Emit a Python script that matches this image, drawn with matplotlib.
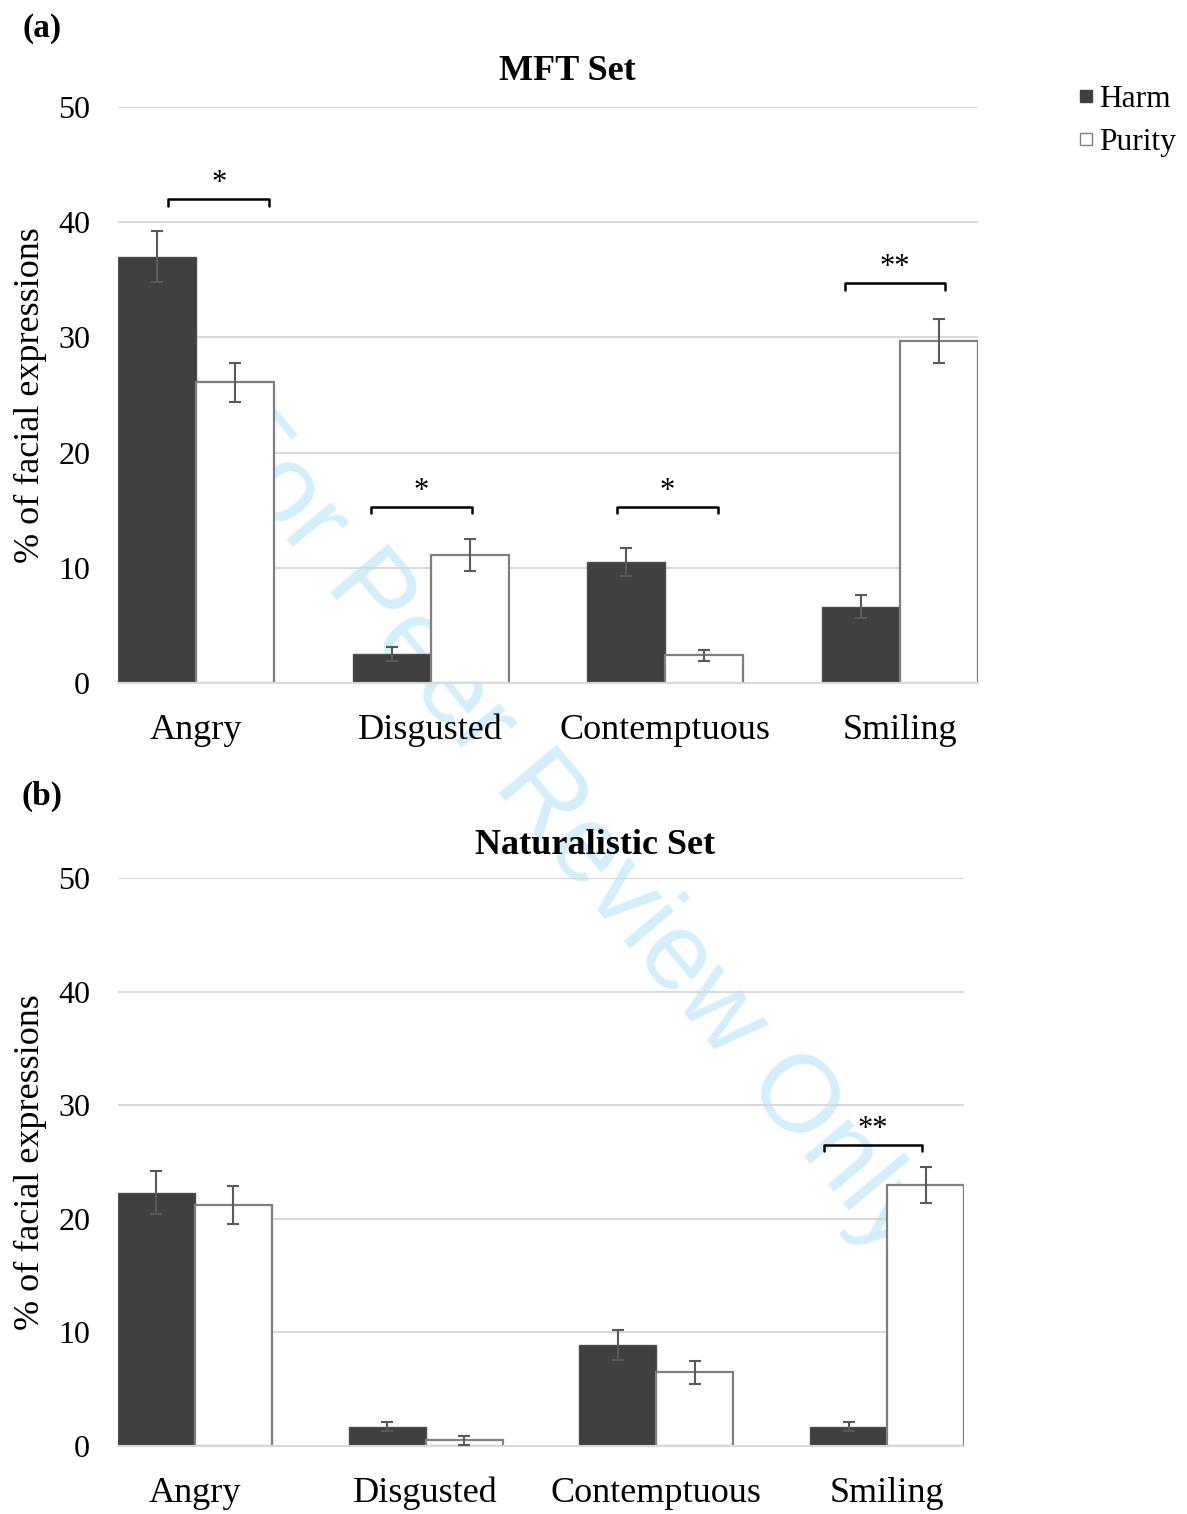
import numpy as np
import matplotlib
matplotlib.use('Agg')
import matplotlib.pyplot as plt
from matplotlib.lines import Line2D

# data
categories = ['Angry', 'Disgusted', 'Contemptuous', 'Smiling']

mft_harm = [37.0, 2.5, 10.5, 6.6]
mft_harm_err = [2.2, 0.6, 1.2, 1.0]
mft_purity = [26.1, 11.1, 2.4, 29.7]
mft_purity_err = [1.7, 1.4, 0.5, 1.9]

nat_harm = [22.3, 1.7, 8.9, 1.7]
nat_harm_err = [1.9, 0.4, 1.3, 0.4]
nat_purity = [21.2, 0.5, 6.5, 23.0]
nat_purity_err = [1.7, 0.4, 1.0, 1.6]

# significance brackets: (category index, offset, bracket height, label)
mft_sig = [(0, 0.096, 42.0, '*'), (1, -0.04, 15.3, '*'),
           (2, 0.009, 15.3, '*'), (3, -0.021, 34.7, '**')]
nat_sig = [(3, -0.061, 26.5, '**')]

harm_color = '#404040'
purity_edge = '#7f7f7f'
err_color = '#595959'
grid_color = '#d9d9d9'

plt.rcParams['font.family'] = ['Liberation Serif', 'DejaVu Serif']

fig = plt.figure(figsize=(11.87, 15.14), dpi=100)
ax1 = fig.add_axes([0.0994, 0.5489, 0.7245, 0.3804])
ax2 = fig.add_axes([0.0994, 0.0449, 0.7127, 0.3752])

bar_w = 1 / 3


def draw_panel(ax, harm, harm_err, purity, purity_err, sig):
    x = np.arange(len(categories))
    ax.set_facecolor('none')
    ax.bar(x - bar_w / 2, harm, bar_w, color=harm_color, edgecolor='#4d4d4d',
           linewidth=1, zorder=2)
    ax.bar(x + bar_w / 2, purity, bar_w, color='white', edgecolor=purity_edge,
           linewidth=1.6, zorder=2)
    ax.errorbar(x - bar_w / 2, harm, yerr=harm_err, fmt='none', ecolor=err_color,
                elinewidth=1.5, capsize=4.5, capthick=1.5, zorder=3)
    ax.errorbar(x + bar_w / 2, purity, yerr=purity_err, fmt='none', ecolor=err_color,
                elinewidth=1.5, capsize=4.5, capthick=1.5, zorder=3)

    for idx, off, h, lab in sig:
        c = idx + off
        x0, x1 = c - 0.214, c + 0.214
        ax.plot([x0, x0, x1, x1], [h - 0.55, h, h, h - 0.55], color='black',
                linewidth=1.8, solid_joinstyle='round', solid_capstyle='round',
                zorder=4, clip_on=False)
        ax.text(c, h + 0.1, lab, ha='center', va='bottom', fontsize=22, zorder=4)

    ax.set_xlim(-bar_w, len(categories) - 1 + bar_w)
    ax.set_ylim(0, 50)
    ax.set_yticks(range(0, 51, 10))
    ax.set_xticks(x)
    ax.set_xticklabels(categories, fontsize=26)
    ax.tick_params(axis='y', labelsize=23, length=0, pad=20)
    ax.tick_params(axis='x', length=0, pad=22)
    ax.yaxis.grid(True, color=grid_color, linewidth=1.5, zorder=0)
    ax.set_axisbelow(True)
    for s in ['top', 'right', 'left']:
        ax.spines[s].set_visible(False)
    ax.spines['bottom'].set_color(grid_color)
    ax.spines['bottom'].set_linewidth(1.5)
    ax.set_ylabel('% of facial expressions', fontsize=26, labelpad=8)


draw_panel(ax1, mft_harm, mft_harm_err, mft_purity, mft_purity_err, mft_sig)
draw_panel(ax2, nat_harm, nat_harm_err, nat_purity, nat_purity_err, nat_sig)

fig.text(567 / 1187, 1 - 72 / 1514, 'MFT Set', ha='center', va='center',
         fontsize=26, fontweight='bold')
fig.text(595 / 1187, 1 - 846 / 1514, 'Naturalistic Set', ha='center', va='center',
         fontsize=26, fontweight='bold')
fig.text(42 / 1187, 1 - 28 / 1514, '(a)', ha='center', va='center',
         fontsize=24, fontweight='bold')
fig.text(42 / 1187, 1 - 796 / 1514, '(b)', ha='center', va='center',
         fontsize=24, fontweight='bold')

# watermark, sits behind the axes
fig.text(565 / 1187, 1 - 828 / 1514, 'For Peer Review Only', ha='center', va='center',
         rotation=-50, fontsize=79, color='#d3effc', family='Liberation Sans',
         rotation_mode='anchor', zorder=-1)

handles = [
    Line2D([], [], marker='s', linestyle='none', markersize=8,
           markerfacecolor=harm_color, markeredgecolor=harm_color, label='Harm'),
    Line2D([], [], marker='s', linestyle='none', markersize=8,
           markerfacecolor='white', markeredgecolor=purity_edge, label='Purity'),
]
fig.legend(handles=handles, loc='upper left', bbox_to_anchor=(1077 / 1187, 1 - 85 / 1514),
           frameon=False, fontsize=22.7, handlelength=0.6, handletextpad=0.1,
           labelspacing=0.43, borderpad=0, borderaxespad=0)

fig.savefig('out.png', dpi=100)
